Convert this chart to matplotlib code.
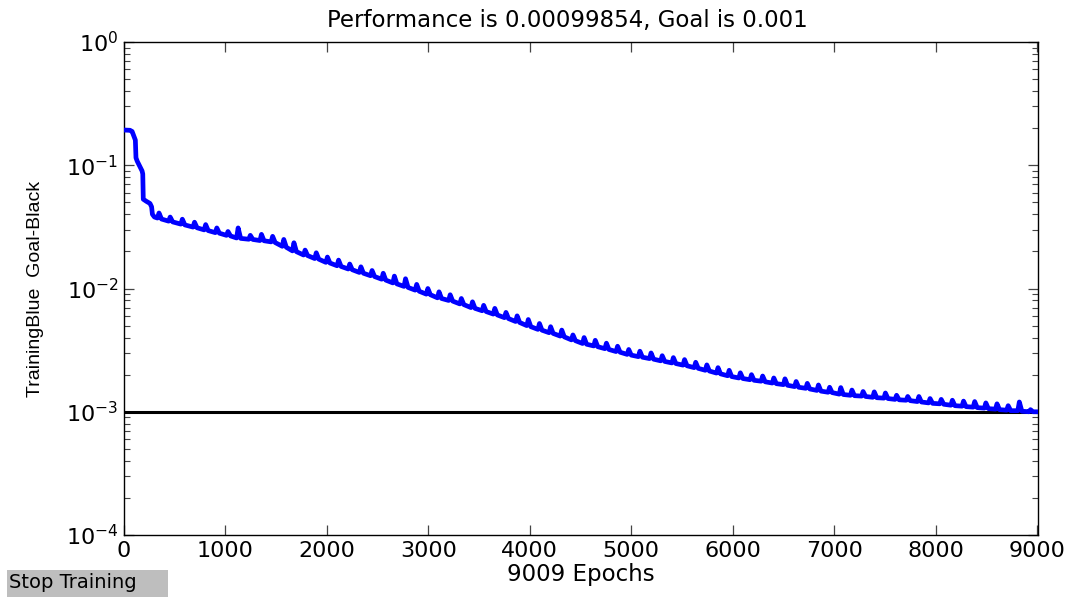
import numpy as np
import matplotlib
matplotlib.use('Agg')
import matplotlib.pyplot as plt
from matplotlib.patches import Rectangle
from matplotlib.ticker import LogLocator, NullFormatter

plt.rcParams['font.family'] = ['DejaVu Sans']
plt.rcParams['mathtext.fontset'] = 'custom'
plt.rcParams['mathtext.rm'] = 'DejaVu Sans'
plt.rcParams['mathtext.default'] = 'regular'

# ── data ─────────────────────────────────────────────────────────────────────
# start of training: plateau then steep steps
start_epochs = [0, 60, 80, 100, 112, 118, 130, 150, 178, 185, 190, 220, 256, 272, 280, 300]
start_perf   = [0.193, 0.192, 0.188, 0.170, 0.160, 0.115, 0.108, 0.100, 0.090, 0.085,
                0.053, 0.051, 0.049, 0.046, 0.040, 0.038]

# slow phase: for every bump, epoch where it begins, level before, peak, level after
bump_epochs = [330, 440, 560, 680, 790, 900, 1010, 1110, 1230, 1340, 1450, 1560, 1660,
               1770, 1880, 1990, 2100, 2210, 2320, 2430, 2540, 2650, 2760, 2870, 2980,
               3090, 3200, 3310, 3420, 3530, 3640, 3750, 3860, 3970, 4080, 4190, 4300,
               4410, 4520, 4630, 4740, 4850, 4960, 5070, 5180, 5290, 5400, 5510, 5620,
               5730, 5840, 5950, 6060, 6170, 6280, 6390, 6500, 6610, 6720, 6830, 6940,
               7050, 7160, 7270, 7380, 7490, 7600, 7710, 7820, 7930, 8040, 8150, 8260,
               8370, 8480, 8590, 8700, 8810, 8920]
bump_base = [0.0373, 0.0352, 0.0333, 0.0315, 0.0299, 0.0284, 0.0270, 0.0257, 0.0251,
             0.0245, 0.0239, 0.0220, 0.0202, 0.0187, 0.0175, 0.0163, 0.0153, 0.0144,
             0.0135, 0.0127, 0.0119, 0.0111, 0.0104, 0.0097, 0.0090, 0.0084, 0.0080,
             0.0075, 0.0070, 0.0066, 0.0062, 0.0058, 0.0054, 0.0050, 0.00466, 0.00438,
             0.00411, 0.00383, 0.00358, 0.00342, 0.00325, 0.00308, 0.00292, 0.00280,
             0.00270, 0.00259, 0.00249, 0.00239, 0.00228, 0.00217, 0.00206, 0.00196,
             0.00188, 0.00182, 0.00177, 0.00171, 0.00166, 0.00160, 0.00155, 0.00149,
             0.00144, 0.00139, 0.00136, 0.00134, 0.00131, 0.00129, 0.00126, 0.00124,
             0.00121, 0.00118, 0.00116, 0.00113, 0.00111, 0.00109, 0.00107, 0.00105,
             0.00103, 0.00102, 0.00100]
bump_peak = [0.041, 0.038, 0.0365, 0.0345, 0.033, 0.031, 0.029, 0.031, 0.027, 0.0275,
             0.0265, 0.0250, 0.0235, 0.0205, 0.0195, 0.018, 0.0170, 0.0158, 0.0150,
             0.0140, 0.0133, 0.0126, 0.0120, 0.0108, 0.0100, 0.0094, 0.0089, 0.0083,
             0.0078, 0.0073, 0.0069, 0.0064, 0.0060, 0.0056, 0.0052, 0.0049, 0.0046,
             0.0042, 0.0040, 0.0038, 0.0036, 0.0034, 0.0032, 0.0031, 0.0030, 0.00285,
             0.00275, 0.00265, 0.00252, 0.0024, 0.00228, 0.00217, 0.00207, 0.0020,
             0.00195, 0.00188, 0.00185, 0.00176, 0.00170, 0.00165, 0.00158, 0.00157,
             0.00150, 0.00146, 0.00145, 0.00142, 0.00136, 0.00133, 0.00133, 0.00128,
             0.00126, 0.00124, 0.00122, 0.00121, 0.00118, 0.00116, 0.00112, 0.00120,
             0.00104]
bump_after = [0.0366, 0.0347, 0.0328, 0.0311, 0.0295, 0.0281, 0.0267, 0.0255, 0.0250,
              0.0244, 0.0236, 0.0216, 0.0199, 0.0185, 0.0173, 0.0161, 0.0151, 0.0142,
              0.0133, 0.0125, 0.0117, 0.0109, 0.0102, 0.0095, 0.0089, 0.0083, 0.0079,
              0.0074, 0.0069, 0.0065, 0.0061, 0.0057, 0.0053, 0.0049, 0.00459, 0.00432,
              0.00405, 0.00377, 0.00353, 0.00337, 0.00320, 0.00304, 0.00288, 0.00277,
              0.00267, 0.00256, 0.00246, 0.00236, 0.00225, 0.00214, 0.00203, 0.00193,
              0.00186, 0.00180, 0.00175, 0.00169, 0.00164, 0.00158, 0.00153, 0.00147,
              0.00143, 0.00138, 0.00135, 0.00133, 0.00130, 0.00128, 0.00125, 0.00123,
              0.00120, 0.00117, 0.00115, 0.00112, 0.00110, 0.00108, 0.00106, 0.00104,
              0.00102, 0.00101, 0.00100]

final_epoch = 9009
final_perf = 0.00099854
goal = 0.001

# ── assemble the trace ───────────────────────────────────────────────────────
epochs = list(start_epochs)
perf = list(start_perf)
for e, b, p, a in zip(bump_epochs, bump_base, bump_peak, bump_after):
    epochs += [e, e + 15, e + 40]
    perf += [b, p, a]
epochs.append(final_epoch)
perf.append(final_perf)

# ── figure ───────────────────────────────────────────────────────────────────
fig = plt.figure(figsize=(10.72, 5.97), dpi=100)
ax = fig.add_axes([124 / 1072, 1 - 535 / 597, (1038 - 124) / 1072, (535 - 42) / 597])

ax.plot(epochs, perf, color='#0000ff', linewidth=3.4, solid_joinstyle='round', zorder=3)
ax.axhline(goal, color='black', linewidth=2.2, zorder=2)

ax.set_yscale('log')
ax.set_xlim(0, final_epoch)
ax.set_ylim(1e-4, 1e0)
ax.set_xticks(np.arange(0, 9001, 1000))
ax.yaxis.set_major_locator(LogLocator(base=10, numticks=10))
ax.yaxis.set_minor_locator(LogLocator(base=10, subs=np.arange(2, 10), numticks=20))
ax.yaxis.set_minor_formatter(NullFormatter())

ax.tick_params(which='both', direction='in', top=True, right=True, color='#444444',
               labelsize=16, pad=4)
ax.tick_params(which='major', length=7, width=0.9)
ax.tick_params(which='minor', length=4, width=0.8)
for s in ax.spines.values():
    s.set_linewidth(1.0)

ax.set_title('Performance is 0.00099854, Goal is 0.001', fontsize=16.5, pad=11, x=0.485)
ax.set_xlabel('9009 Epochs', fontsize=16.5, labelpad=2)
ax.set_ylabel('TrainingBlue  Goal-Black', fontsize=14, labelpad=16,
              family=['Liberation Sans', 'DejaVu Sans'])

# Stop Training button
fig.patches.append(Rectangle((7 / 1072, 0), 161 / 1072, 27 / 597,
                             transform=fig.transFigure, facecolor='#bebebe',
                             edgecolor='none'))
fig.text(9 / 1072, 14 / 597, 'Stop Training', fontsize=14, va='center', ha='left')

fig.savefig('out.png', dpi=100)
